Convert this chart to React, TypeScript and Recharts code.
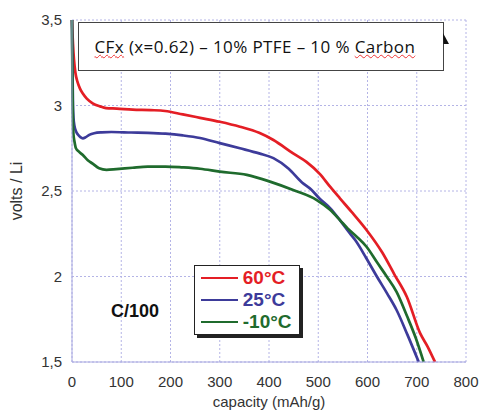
import React from 'react';
import { LineChart, Line, XAxis, YAxis, CartesianGrid, Legend } from 'recharts';

// Tick values
const xTicks = [0, 100, 200, 300, 400, 500, 600, 700, 800];
const yTicks = [1.5, 2, 2.5, 3, 3.5];

// Series names & colours
const seriesNames = ['60°C', '25°C', '-10°C'];
const seriesColors = ['#e41e25', '#3d3b9a', '#1f6b2d'];

// 60°C (red)
const cap60 = [0, 1, 2, 4, 7, 11, 16, 22, 30, 42, 57, 69, 91, 123, 160, 189, 225, 260, 300, 341, 380, 409, 449, 476, 503, 524, 544, 570, 598, 630, 655, 680, 707, 722, 737];
const volt60 = [3.5, 3.42, 3.36, 3.27, 3.19, 3.14, 3.1, 3.07, 3.04, 3.013, 2.995, 2.985, 2.982, 2.976, 2.973, 2.968, 2.948, 2.928, 2.905, 2.876, 2.84, 2.798, 2.72, 2.67, 2.6, 2.525, 2.457, 2.37, 2.272, 2.14, 2.01, 1.88, 1.667, 1.59, 1.5];

// 25°C (blue)
const cap25 = [0, 1, 2, 3, 5, 8, 12, 17, 22, 28, 35, 45, 60, 80, 120, 154, 190, 225, 260, 300, 341, 380, 409, 440, 467, 485, 503, 524, 544, 564, 575, 597, 619, 640, 659, 681, 704];
const volt25 = [3.5, 3.2, 3.0, 2.93, 2.88, 2.85, 2.83, 2.815, 2.808, 2.815, 2.828, 2.838, 2.843, 2.845, 2.842, 2.84, 2.835, 2.825, 2.81, 2.78, 2.75, 2.72, 2.692, 2.63, 2.55, 2.51, 2.455, 2.4, 2.33, 2.253, 2.213, 2.11, 2.0, 1.9, 1.804, 1.66, 1.5];

// -10°C (green)
const capM10 = [0, 1, 2, 3, 5, 8, 14, 22, 32, 42, 55, 70, 90, 123, 154, 190, 225, 260, 300, 355, 402, 449, 497, 524, 544, 560, 578, 598, 620, 639, 659, 680, 698, 714];
const voltM10 = [3.5, 3.1, 2.9, 2.83, 2.79, 2.75, 2.73, 2.71, 2.68, 2.66, 2.633, 2.624, 2.628, 2.636, 2.642, 2.643, 2.638, 2.63, 2.613, 2.594, 2.555, 2.506, 2.447, 2.39, 2.33, 2.28, 2.233, 2.174, 2.08, 2.0, 1.91, 1.77, 1.64, 1.5];

const zip = (xs: number[], vs: number[]) => xs.map((x, i) => ({ x, v: vs[i] }));
const seriesData = [zip(cap60, volt60), zip(cap25, volt25), zip(capM10, voltM10)];

const FONT = '"Liberation Sans", Arial, sans-serif';

const LegendBox = (props: any) => {
  const payload = [...(props.payload || [])].sort(
    (a: any, b: any) => seriesNames.indexOf(a.value) - seriesNames.indexOf(b.value)
  );
  const rows = [13.7, 35.3, 57.3];
  return (
    <div
      style={{
        position: 'relative',
        width: 106,
        height: 70,
        boxSizing: 'border-box',
        border: '1.5px solid #222',
        background: '#fff',
        boxShadow: '3px 3px 0 #222',
      }}
    >
      {payload.map((p: any, i: number) => (
        <div key={i} style={{ position: 'absolute', left: 0, top: rows[i] - 11 - 1.5, height: 22, width: 104, display: 'flex', alignItems: 'center' }}>
          <div style={{ position: 'absolute', left: 5.5, width: 37, height: 2, background: p.color }} />
          <span style={{ position: 'absolute', left: 47.8, fontFamily: FONT, fontWeight: 'bold', fontSize: 19, color: p.color, lineHeight: '22px' }}>{p.value}</span>
        </div>
      ))}
    </div>
  );
};

const YLabel = () => (
  <text x={21.5} y={191} transform="rotate(-90 21.5 191)" textAnchor="middle" fill="#333" fontFamily={FONT} fontSize={16}>
    volts / Li
  </text>
);

export default function App() {
  return (
    <div style={{ position: 'absolute', left: 0, top: 0, width: 480, height: 417, background: '#fff' }}>
      <LineChart width={480} height={417} margin={{ top: 20, right: 14, bottom: 0, left: 0 }}>
        <CartesianGrid stroke="#b4b4e6" strokeDasharray="2 2" />
        <XAxis
          dataKey="x"
          type="number"
          domain={[0, 800]}
          ticks={xTicks}
          allowDuplicatedCategory={false}
          height={55}
          tickLine={false}
          tickSize={0}
          tickMargin={14}
          axisLine={{ stroke: '#a8a8e0', strokeWidth: 1 }}
          tick={{ fill: '#333', fontSize: 15, fontFamily: FONT }}
          label={{ value: 'capacity (mAh/g)', position: 'insideBottom', offset: 10, fill: '#333', fontSize: 15, fontFamily: FONT }}
        />
        <YAxis
          type="number"
          domain={[1.5, 3.5]}
          ticks={yTicks}
          width={72}
          tickLine={false}
          tickSize={0}
          tickMargin={10}
          axisLine={{ stroke: '#a8a8e0', strokeWidth: 1 }}
          tick={{ fill: '#333', fontSize: 15, fontFamily: FONT }}
          tickFormatter={(v: number) => String(v).replace('.', ',')}
          label={{ content: YLabel }}
        />
        <Legend
          layout="vertical"
          align="center"
          verticalAlign="middle"
          content={LegendBox}
          wrapperStyle={{ left: 194, top: 265, width: 106, height: 70 }}
        />
        {seriesData.map((d, i) => (
          <Line
            key={seriesNames[i]}
            data={d}
            dataKey="v"
            name={seriesNames[i]}
            type="monotone"
            stroke={seriesColors[i]}
            strokeWidth={2.7}
            dot={false}
            activeDot={false}
            isAnimationActive={false}
          />
        ))}
      </LineChart>

      {/* Title box */}
      <div
        style={{
          position: 'absolute',
          left: 77.5,
          top: 22,
          width: 366,
          height: 49,
          boxSizing: 'border-box',
          border: '1px solid #444',
          background: '#fff',
          display: 'flex',
          alignItems: 'center',
          paddingLeft: 16,
          fontFamily: '"Open Sans", sans-serif',
          fontSize: 17,
          letterSpacing: 0.4,
          color: '#111',
          whiteSpace: 'nowrap',
        }}
      >
        <span>
          <span style={{ textDecoration: 'underline wavy #e33', textDecorationThickness: 1 }}>CFx</span>
          {' (x=0.62) – 10% PTFE – 10 % '}
          <span style={{ textDecoration: 'underline wavy #e33', textDecorationThickness: 1 }}>Carbon</span>
        </span>
      </div>

      {/* annotation */}
      <svg style={{ position: 'absolute', left: 0, top: 0, pointerEvents: 'none' }} width={480} height={417}>
        <polygon points="443,33 449,44 443.5,44" fill="#111" />
        <text x={111} y={316.7} fontFamily={FONT} fontWeight="bold" fontSize={18} fill="#111">
          C/100
        </text>
      </svg>
    </div>
  );
}
